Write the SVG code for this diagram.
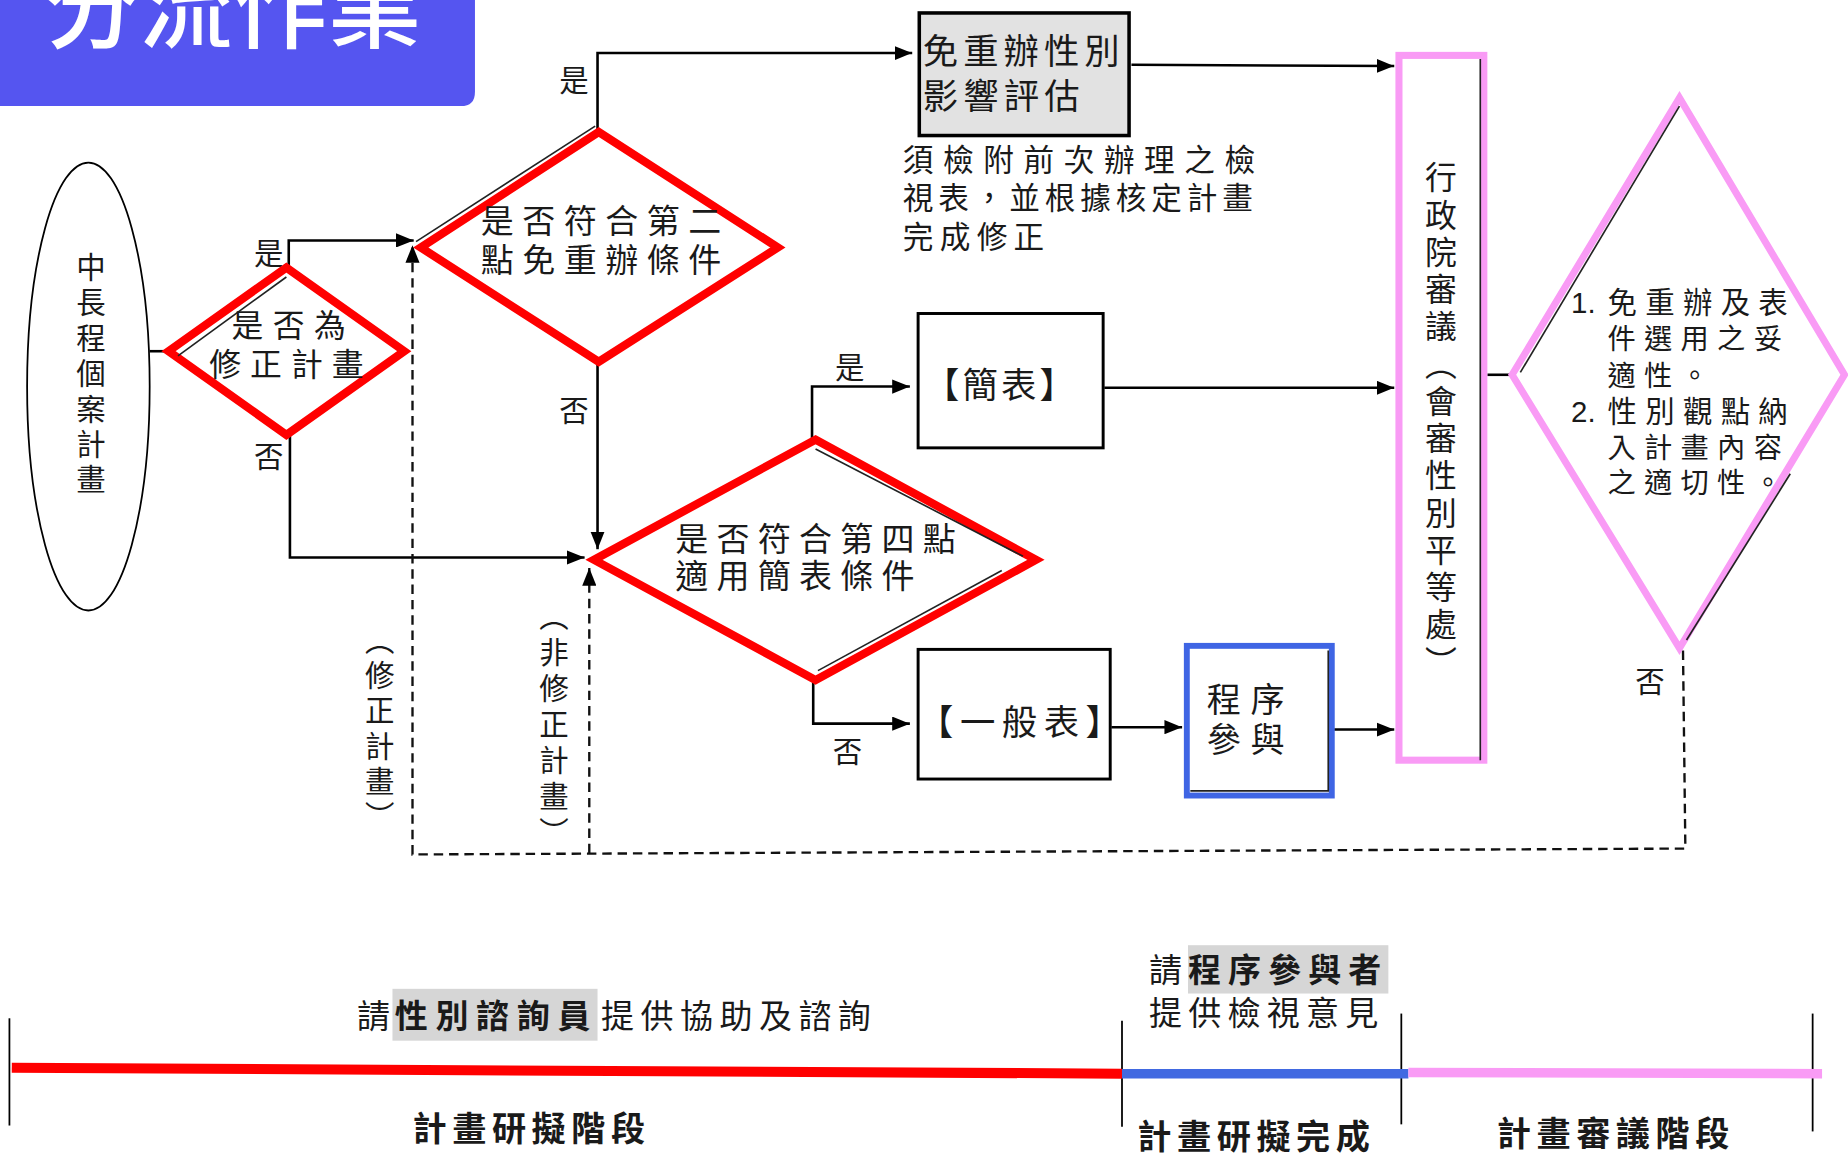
<svg xmlns="http://www.w3.org/2000/svg" width="1848" height="1153" viewBox="0 0 1848 1153">
<defs>
<style>
.t{font-family:"Liberation Sans","Noto Sans CJK TC","Noto Sans CJK SC",sans-serif;fill:#1a1a1a;dominant-baseline:central}
.v{writing-mode:vertical-rl}
.b{font-weight:bold}
.c{fill:none;stroke:#000;stroke-width:2.2}
.d{fill:none;stroke:#111;stroke-width:2;stroke-dasharray:8 5}
.red{fill:none;stroke:#ff0000;stroke-width:7}
.pink{fill:none;stroke:#f99bf5;stroke-width:6}
.box{fill:#fff;stroke:#000;stroke-width:2.5}
.sh{fill:none;stroke:#222;stroke-width:1.4}
.tick{stroke:#000;stroke-width:1.5}
</style>
<marker id="ah" markerUnits="userSpaceOnUse" markerWidth="15" markerHeight="12" refX="15" refY="6" orient="auto"><path d="M0,0L15,6L0,12z" fill="#000"/></marker>
</defs>
<rect width="1848" height="1153" fill="#fff"/>
<g transform="scale(1.178571)">

<g id="title">
<path d="M0,0H403V78Q403,90 391,90H0Z" fill="#5555f0"/>
<text x="38" y="35" font-size="80" fill="#fff" style="font-family:'Noto Sans CJK TC','Noto Sans CJK SC',sans-serif;font-weight:500">分流作業</text>
</g>

<g id="connectors">
<path class="c" d="M127,298H143"/>
<path class="c" d="M245,226V204H351" marker-end="url(#ah)"/>
<path class="c" d="M246,370V473H496" marker-end="url(#ah)"/>
<path class="c" d="M507,112V45H774" marker-end="url(#ah)"/>
<path class="c" d="M507,307V466" marker-end="url(#ah)"/>
<path class="c" d="M689,373V328H772" marker-end="url(#ah)"/>
<path class="c" d="M690,577V614H772" marker-end="url(#ah)"/>
<path class="c" d="M960,55L1183,56" marker-end="url(#ah)"/>
<path class="c" d="M937,329H1183" marker-end="url(#ah)"/>
<path class="c" d="M943,617H1003" marker-end="url(#ah)"/>
<path class="c" d="M1132,619H1183" marker-end="url(#ah)"/>
<path class="c" d="M1262,318H1283"/>
<path class="d" d="M1428,552L1430,720L350,725V208" marker-end="url(#ah)"/>
<path class="d" d="M500,724V482" marker-end="url(#ah)"/>
<text class="t" x="228" y="215" font-size="25" text-anchor="middle">是</text>
<text class="t" x="228" y="387" font-size="25" text-anchor="middle">否</text>
<text class="t" x="487" y="68" font-size="25" text-anchor="middle">是</text>
<text class="t" x="487" y="348" font-size="25" text-anchor="middle">否</text>
<text class="t" x="721" y="312" font-size="25" text-anchor="middle">是</text>
<text class="t" x="719" y="638" font-size="25" text-anchor="middle">否</text>
<text class="t" x="1400" y="578" font-size="25" text-anchor="middle">否</text>
<text class="t v" x="320" y="530" font-size="25" letter-spacing="5">（修正計畫）</text>
<text class="t v" x="468" y="510" font-size="25" letter-spacing="5.5">（非修正計畫）</text>
</g>

<g id="start">
<ellipse cx="75" cy="328" rx="52" ry="190" fill="none" stroke="#000" stroke-width="1.5"/>
<text class="t v" x="75" y="214" font-size="25" letter-spacing="5">中長程個案計畫</text>
</g>

<g id="d1">
<polygon class="red" points="243,227 343,298 243,369 143,298"/>
<path class="sh" d="M151,302L243,235"/>
<text class="t" x="245" y="277" font-size="27" text-anchor="middle" textLength="97" lengthAdjust="spacing">是否為</text>
<text class="t" x="243" y="310" font-size="27" text-anchor="middle" textLength="131" lengthAdjust="spacing">修正計畫</text>
</g>

<g id="d2">
<polygon class="red" points="508,112 660,210 508,307 357,210"/>
<path class="sh" d="M353,205L505,107"/>
<text class="t" x="510" y="188" font-size="28" text-anchor="middle" textLength="204" lengthAdjust="spacing">是否符合第二</text>
<text class="t" x="510" y="221" font-size="28" text-anchor="middle" textLength="204" lengthAdjust="spacing">點免重辦條件</text>
</g>

<g id="exempt">
<rect x="780" y="11" width="178" height="104" fill="#e2e2e2" stroke="#000" stroke-width="3"/>
<text class="t" x="783" y="44" font-size="30" textLength="167" lengthAdjust="spacing">免重辦性別</text>
<text class="t" x="783" y="82" font-size="30" textLength="133" lengthAdjust="spacing">影響評估</text>
</g>

<g id="note">
<text class="t" x="766" y="136" font-size="26" textLength="299" lengthAdjust="spacing">須檢附前次辦理之檢</text>
<text class="t" x="766" y="168" font-size="26" textLength="297" lengthAdjust="spacing">視表，並根據核定計畫</text>
<text class="t" x="766" y="201" font-size="26" textLength="120" lengthAdjust="spacing">完成修正</text>
</g>

<g id="d3">
<polygon class="red" points="692,373 879,475 692,577 504,475"/>
<path class="sh" d="M692,381L868,472"/>
<path class="sh" d="M694,569L850,484"/>
<text class="t" x="573" y="458" font-size="28" textLength="238" lengthAdjust="spacing">是否符合第四點</text>
<text class="t" x="573" y="489" font-size="28" textLength="203" lengthAdjust="spacing">適用簡表條件</text>
</g>

<g id="simple">
<rect class="box" x="779" y="266" width="157" height="114"/>
<text class="t" x="848" y="327" font-size="30" text-anchor="middle" textLength="128" lengthAdjust="spacing">【簡表】</text>
</g>

<g id="general">
<rect class="box" x="779" y="551" width="163" height="110"/>
<text class="t" x="865" y="613" font-size="30" text-anchor="middle" textLength="172" lengthAdjust="spacing">【一般表】</text>
</g>

<g id="participation">
<rect x="1007" y="548" width="123" height="127" fill="#fff" stroke="#3f65e4" stroke-width="5"/>
<path class="sh" d="M1127,552V671H1010"/>
<text class="t" x="1057" y="594" font-size="29" text-anchor="middle" textLength="66" lengthAdjust="spacing">程序</text>
<text class="t" x="1057" y="628" font-size="29" text-anchor="middle" textLength="66" lengthAdjust="spacing">參與</text>
</g>

<g id="review">
<rect class="pink" x="1187" y="47" width="72" height="598" fill="#fff"/>
<path class="sh" d="M1256,50V645"/>
<text class="t v" x="1220" y="137" font-size="27" letter-spacing="4.6">行政院審議（會審性別平等處）</text>
</g>

<g id="d4">
<polygon class="pink" points="1425,83 1565,318 1425,550 1283,318"/>
<path class="sh" d="M1290,316L1425,90"/>
<path class="sh" d="M1431,543L1519,402"/>
<text class="t" font-size="25"><tspan x="1333" y="256">1.</tspan><tspan x="1364" y="256" letter-spacing="7">免重辦及表</tspan></text>
<text class="t" x="1364" y="288" font-size="24" letter-spacing="7">件選用之妥</text>
<text class="t" x="1364" y="319" font-size="24" letter-spacing="7">適性。</text>
<text class="t" font-size="25"><tspan x="1333" y="349">2.</tspan><tspan x="1364" y="349" letter-spacing="7">性別觀點納</tspan></text>
<text class="t" x="1364" y="380" font-size="24" letter-spacing="7">入計畫內容</text>
<text class="t" x="1364" y="410" font-size="24" letter-spacing="7">之適切性。</text>
</g>

<g id="timeline">
<rect x="333" y="839" width="174" height="44" fill="#d6d6d6"/>
<rect x="1008" y="802" width="170" height="41" fill="#d6d6d6"/>
<line class="tick" x1="8" y1="864" x2="8" y2="955"/>
<line class="tick" x1="952" y1="866" x2="952" y2="956"/>
<line class="tick" x1="1189" y1="860" x2="1189" y2="954"/>
<line class="tick" x1="1538" y1="860" x2="1538" y2="960"/>
<line x1="10" y1="906" x2="952" y2="911" stroke="#ff0000" stroke-width="8.5"/>
<line x1="952" y1="911" x2="1195" y2="911" stroke="#4169e1" stroke-width="8"/>
<line x1="1195" y1="910" x2="1546" y2="911" stroke="#f99bf5" stroke-width="8"/>
<text class="t" font-size="28" y="862"><tspan x="303">請</tspan><tspan x="335" class="b" letter-spacing="6.5">性別諮詢員</tspan><tspan x="510" letter-spacing="5.5">提供協助及諮詢</tspan></text>
<text class="t" font-size="28" y="823"><tspan x="975">請</tspan><tspan x="1008" class="b" letter-spacing="6">程序參與者</tspan></text>
<text class="t" x="975" y="860" font-size="28" letter-spacing="5.3">提供檢視意見</text>
<text class="t b" x="350" y="958" font-size="29" letter-spacing="4.7">計畫研擬階段</text>
<text class="t b" x="965" y="965" font-size="29" letter-spacing="4.7">計畫研擬完成</text>
<text class="t b" x="1270" y="962" font-size="29" letter-spacing="4.7">計畫審議階段</text>
</g>

</g>
</svg>
